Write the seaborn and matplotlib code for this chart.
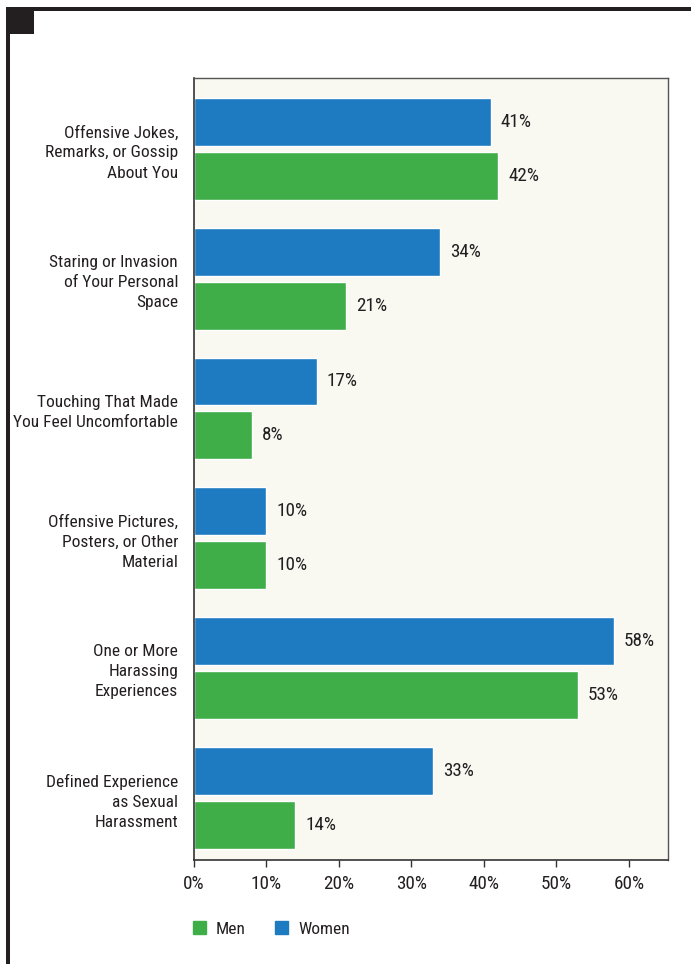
import matplotlib
matplotlib.use("Agg")
import matplotlib.pyplot as plt
from matplotlib.patches import Patch, Rectangle
import pandas as pd
import seaborn as sns

# Данные
categories = [
    "Offensive Jokes,\nRemarks, or Gossip\nAbout You",
    "Staring or Invasion\nof Your Personal\nSpace",
    "Touching That Made\nYou Feel Uncomfortable",
    "Offensive Pictures,\nPosters, or Other\nMaterial",
    "One or More\nHarassing\nExperiences",
    "Defined Experience\nas Sexual\nHarassment",
]
women = [41, 34, 17, 10, 58, 33]
men = [42, 21, 8, 10, 53, 14]
x_ticks = [0, 10, 20, 30, 40, 50, 60]
x_tick_labels = ["0%", "10%", "20%", "30%", "40%", "50%", "60%"]

df = pd.DataFrame({
    "category": categories * 2,
    "value": women + men,
    "group": ["Women"] * len(categories) + ["Men"] * len(categories),
})

blue = "#1f7bc1"
green = "#3fae49"
text_col = "#231f20"
fs = 12.5
fs_num = 13.8  # цифры в оригинале шире

sns.set_theme(style="white")
plt.rcParams["font.family"] = ["Roboto Condensed", "Liberation Sans Narrow", "Liberation Sans", "DejaVu Sans"]

W, H = 691, 964
fig = plt.figure(figsize=(W / 100, H / 100), dpi=100)
ax = fig.add_axes([194 / W, 1 - 860 / H, 474 / W, 782 / H])

sns.barplot(data=df, y="category", x="value", hue="group",
            hue_order=["Women", "Men"], order=categories,
            palette={"Women": blue, "Men": green},
            orient="h", width=0.83, gap=0.11, saturation=1,
            legend=False, ax=ax)

for cont in ax.containers:
    ax.bar_label(cont, fmt="%d%%", padding=7, fontsize=fs_num, color=text_col)

ax.set_facecolor("#f9f8f1")
ax.set_xlim(0, 65.4)
ax.set_ylim(5.48, -0.546)
ax.set_xticks(x_ticks)
ax.set_xticklabels(x_tick_labels, fontsize=fs_num, color=text_col)
ax.tick_params(axis="x", bottom=True, length=5, width=1, color="#333333", pad=6)
ax.tick_params(axis="y", left=False, length=0, pad=11.5, labelsize=fs, labelcolor=text_col)
for lbl in ax.get_yticklabels():
    lbl.set_horizontalalignment("right")
    lbl.set_linespacing(1.42)
ax.set_xlabel("")
ax.set_ylabel("")
for s in ["left", "bottom"]:
    ax.spines[s].set_color("#333333")
    ax.spines[s].set_linewidth(1.2)
for s in ["top", "right"]:
    ax.spines[s].set_color("#555555")
    ax.spines[s].set_linewidth(1.0)

# Легенда
handles = [Patch(color=green, label="Men"), Patch(color=blue, label="Women")]
fig.legend(handles=handles, loc="center left", bbox_to_anchor=(177 / W, 1 - 929 / H),
           ncol=2, frameon=False, fontsize=fs, handlelength=0.75, handleheight=0.75,
           handletextpad=0.6, columnspacing=1.65, labelcolor=text_col)

# Чёрная рамка сверху и слева
tr = fig.transFigure
fig.add_artist(Rectangle((7 / W, 1 - 11 / H), (W - 7) / W, 4 / H, transform=tr,
                         color="#231f20", lw=0))
fig.add_artist(Rectangle((6 / W, 0), 4 / W, 1 - 7 / H, transform=tr,
                         color="#231f20", lw=0))
fig.add_artist(Rectangle((7 / W, 1 - 34 / H), 27 / W, 27 / H, transform=tr,
                         color="#231f20", lw=0))

fig.savefig("out.png", dpi=100, facecolor="white")
